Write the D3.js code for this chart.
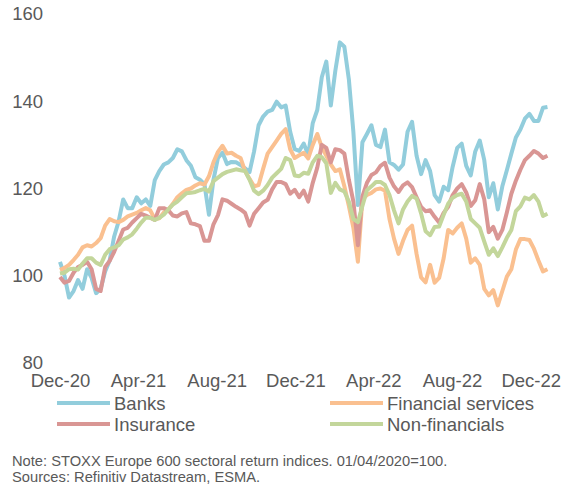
<!DOCTYPE html>
<html>
<head>
<meta charset="utf-8">
<script src="https://cdn.jsdelivr.net/npm/d3@7/dist/d3.min.js"></script>
<style>
  body { margin: 0; background: #fff; }
  text { font-family: "Liberation Sans", Arial, sans-serif; fill: #595959; }
</style>
</head>
<body>
<div id="chart"></div>
<script>
var width = 564, height = 488;

// weekly observations starting 1 Dec 2020
var startDate = "2020-12-01";

var banks = [103.2,100,95,96.5,99,97,101.5,99.5,96,97,101,103.5,109,112.5,117.5,115.5,115.5,118,116.6,117.5,
  116,121.9,124,125.5,126,127,129,128.5,126.5,125.2,122.6,122,121,114,122,127,128.2,125.6,126.1,126,
  125.4,124.6,123.8,128.5,134.5,136.5,137.6,138,139.9,138.6,139,133,129,128.6,130.3,127.7,135,138,145.5,149.1,
  139,147,153.5,152.5,145,133,116.2,130.6,132.5,134.5,130,129.5,133.5,126,125.4,124.3,125.5,133,135.3,127.5,
  123.3,126.5,124,118.5,117,120.4,119.6,125,129.3,130.3,125.2,123,128.5,131,126.5,118,121.2,115.2,120.5,124.2,
  128,131.7,133.5,136,137.1,135.5,135.5,138.5,138.7];

var finServices = [101.3,101.8,102.5,103.6,104.8,106.5,107,106.7,107.5,108.6,111.5,113,112.5,112.3,112.8,113.6,114,114.4,115,115.5,
  115,113,113.2,114.5,115.2,116.5,118,118.9,119.7,120,120.7,121.2,120.9,122.8,126,128.4,129.8,128,128.2,127.5,
  127,124,122.2,120.5,120.8,124.5,128,129.5,131,132.5,133.6,129,127,127.6,128.2,126.9,130,132.5,129.5,127.5,
  125.5,124,124.4,120.5,116,111,103.2,117.5,118.5,119,119.8,120,119.5,113,108.5,105,108,110.5,111.5,105,
  99.6,98.5,102.5,98.4,99.5,104,110.5,109.7,111,112,108.5,103,104,102.5,97,95.5,96.7,93.2,96.5,99.8,
  101.5,106,108.4,108.4,108.2,106.2,103.5,101,101.5];

var insurance = [99.7,98.4,98.8,100.7,102,102.5,103.2,101.5,97,96.5,102,103.4,105.5,108,110.6,111,112.2,113.2,114.2,113.8,
  113.3,112.8,115.5,115.5,115,113.8,113.6,114.3,114.6,112,111.8,111.4,108,108,111.8,113.9,117.5,117.2,116.5,115.8,
  115.2,114.4,111.5,114.2,115.5,116.8,117.4,119.8,121.5,121.5,121,118.8,119.7,118,119.5,117,121.3,124.8,130,129.3,
  126,129,128.8,128,122,117,107,118.2,121.3,123.1,123.7,125.2,125.9,122.5,120.5,119.2,120.7,121.4,120.3,118,
  115.8,114.8,115,113.5,112.2,114.4,115.8,118.5,120,121,119.1,116,117.3,121,117.5,110,111.2,108.5,110.5,114.5,
  118.8,121.8,124.3,126.5,127.5,128.6,128,127,127.5];

var nonFinancials = [100.5,100.7,101.5,101.6,101.4,102.8,104,104,103,102.5,104.8,106.1,106.5,107,108.3,108.8,109.5,110.8,112.2,113.3,
  113.3,112.8,113.3,114,115.2,116.3,117,118,118.9,119,119.2,119.6,119.9,119.3,121.7,122.5,123.3,123.8,124.1,124.4,
  124.2,124,122,119.5,118.7,119.5,120.8,122.5,123.5,124.5,127,126.5,123,122.8,123.6,123.4,126,127.5,127.2,125.8,
  119,121.3,119.8,119.3,117,113,112.3,116,119.6,120.5,121.5,121.5,120.8,118.5,115,112,115.2,117,118.3,117.7,
  114.3,110.2,109.3,111.2,111.3,114,116.5,117.9,118.5,118.8,117,113,112,111,107.8,104.8,106.3,104.5,106.5,108.7,
  110.5,114.8,115.9,117.9,117.5,118.5,117,113.7,114.2];

var seriesNames = ["Banks", "Financial services", "Insurance", "Non-financials"];
var seriesColors = ["#92cddc", "#fac090", "#d99694", "#c3d69b"];
var seriesValues = [banks, finServices, insurance, nonFinancials];

var xTickLabels = ["Dec-20", "Apr-21", "Aug-21", "Dec-21", "Apr-22", "Aug-22", "Dec-22"];
var yTicks = [80, 100, 120, 140, 160];

var parseDay = d3.timeParse("%Y-%m-%d"),
    parseTick = d3.timeParse("%b-%y");
var t0 = parseDay(startDate);

var svg = d3.select("#chart").append("svg")
    .attr("width", width)
    .attr("height", height);

var x = d3.scaleTime()
    .domain([parseTick("Dec-20"), parseTick("Dec-22")])
    .range([60, 530.7]);

var y = d3.scaleLinear()
    .domain([80, 160])
    .range([363, 14]);

// y axis labels only
var yAxis = svg.append("g")
    .attr("transform", "translate(46,0)")
    .call(d3.axisLeft(y).tickValues(yTicks).tickSize(0).tickPadding(3));
yAxis.select(".domain").remove();
yAxis.selectAll("text")
    .style("font-size", "18.5px")
    .attr("fill", "#595959")
    .attr("font-family", "Liberation Sans, Arial, sans-serif");

// x axis labels only
var xAxis = svg.append("g")
    .attr("transform", "translate(0,374)")
    .call(d3.axisBottom(x)
        .tickValues(xTickLabels.map(function(d) { return parseTick(d); }))
        .tickFormat(d3.timeFormat("%b-%y"))
        .tickSize(0).tickPadding(0));
xAxis.select(".domain").remove();
xAxis.selectAll("text")
    .style("font-size", "18.5px")
    .attr("fill", "#595959")
    .attr("font-family", "Liberation Sans, Arial, sans-serif");

var line = d3.line()
    .x(function(d, i) { return x(d3.timeDay.offset(t0, 7 * i)); })
    .y(function(d) { return y(d); });

svg.selectAll(".series")
    .data(seriesValues)
    .enter().append("path")
    .attr("class", "series")
    .attr("fill", "none")
    .attr("stroke", function(d, i) { return seriesColors[i]; })
    .attr("stroke-width", 4)
    .attr("stroke-linejoin", "round")
    .attr("d", line);

// legend, two columns
var legend = svg.selectAll(".legend")
    .data(seriesNames)
    .enter().append("g")
    .attr("class", "legend")
    .attr("transform", function(d, i) {
        return "translate(" + (i % 2 === 0 ? 57 : 330) + "," + (403 + Math.floor(i / 2) * 21) + ")";
    });

legend.append("line")
    .attr("x1", 0).attr("x2", 53)
    .attr("y1", 0).attr("y2", 0)
    .attr("stroke", function(d, i) { return seriesColors[i]; })
    .attr("stroke-width", 4);

legend.append("text")
    .attr("x", 57)
    .attr("y", 6.5)
    .style("font-size", "18.5px")
    .text(function(d) { return d; });

svg.append("text")
    .attr("x", 12)
    .attr("y", 466)
    .style("font-size", "14.7px")
    .text("Note: STOXX Europe 600 sectoral return indices. 01/04/2020=100.");

svg.append("text")
    .attr("x", 12)
    .attr("y", 482)
    .style("font-size", "14.7px")
    .text("Sources: Refinitiv Datastream, ESMA.");
</script>
</body>
</html>
